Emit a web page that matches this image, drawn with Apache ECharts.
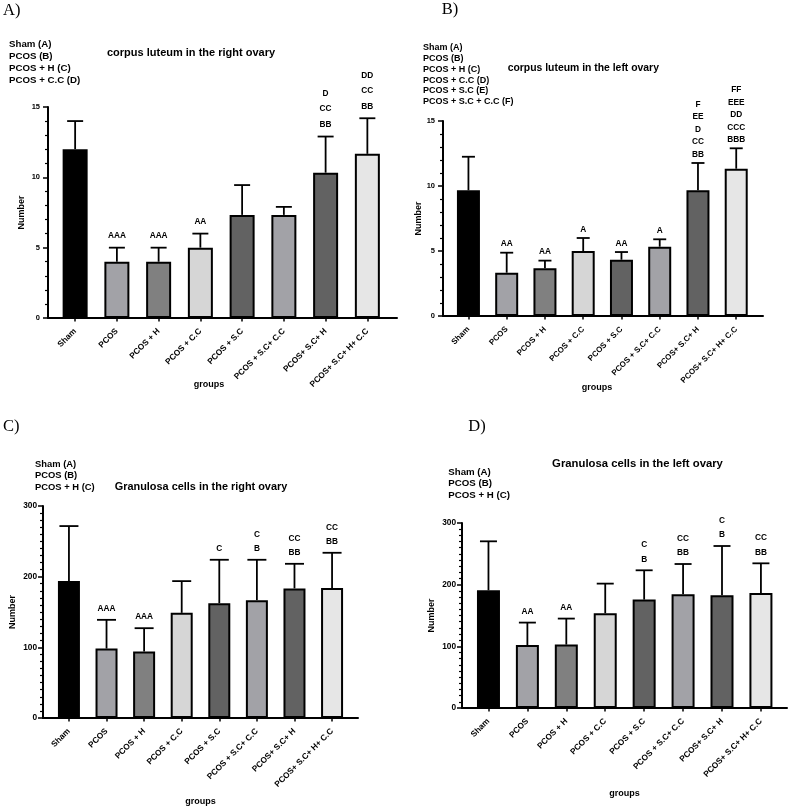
<!DOCTYPE html>
<html><head><meta charset="utf-8">
<script src="https://cdn.jsdelivr.net/npm/echarts@6/dist/echarts.min.js"></script>
<style>html,body{margin:0;padding:0;background:#fff}#c{width:789px;height:808px}</style>
</head><body><div id="c"></div>
<script>
// ---------- DATA ----------
const categories = ['Sham', 'PCOS', 'PCOS + H', 'PCOS + C.C', 'PCOS + S.C', 'PCOS + S.C+ C.C', 'PCOS+ S.C+ H', 'PCOS+ S.C+ H+ C.C'];

const titleA = 'corpus luteum in the right ovary';
const legendA = ['Sham (A)', 'PCOS (B)', 'PCOS + H (C)', 'PCOS + C.C (D)'];
const meanA = [12, 4, 4, 5, 7.33, 7.33, 10.33, 11.67];
const errTopA = [14, 5, 5, 6, 9.45, 7.9, 12.9, 14.2];
const sigA = [[], ['AAA'], ['AAA'], ['AA'], [], [], ['D', 'CC', 'BB'], ['DD', 'CC', 'BB']];
const yTicksA = [0, 5, 10, 15];

const titleB = 'corpus luteum in the left ovary';
const legendB = ['Sham (A)', 'PCOS (B)', 'PCOS + H (C)', 'PCOS + C.C (D)', 'PCOS + S.C (E)', 'PCOS + S.C + C.C (F)'];
const meanB = [9.67, 3.33, 3.67, 5, 4.33, 5.33, 9.67, 11.33];
const errTopB = [12.25, 4.87, 4.26, 6.0, 4.92, 5.9, 11.77, 12.9];
const sigB = [[], ['AA'], ['AA'], ['A'], ['AA'], ['A'], ['F', 'EE', 'D', 'CC', 'BB'], ['FF', 'EEE', 'DD', 'CCC', 'BBB']];
const yTicksB = [0, 5, 10, 15];

const titleC = 'Granulosa cells in the right ovary';
const legendC = ['Sham (A)', 'PCOS (B)', 'PCOS + H (C)'];
const meanC = [193.7, 98.3, 94.1, 148.8, 162.5, 166.8, 183.4, 184];
const errTopC = [271.6, 138.9, 127.1, 193.7, 223.9, 223.9, 218.2, 233.8];
const sigC = [[], ['AAA'], ['AAA'], [], ['C'], ['C', 'B'], ['CC', 'BB'], ['CC', 'BB']];
const yTicksC = [0, 100, 200, 300];

const titleD = 'Granulosa cells in the left ovary';
const legendD = ['Sham (A)', 'PCOS (B)', 'PCOS + H (C)'];
const meanD = [190.9, 102.2, 102.8, 153.6, 175.8, 184.4, 182.7, 186.5];
const errTopD = [270.3, 138.5, 145, 201.7, 223.3, 233.5, 262.7, 234.6];
const sigD = [[], ['AA'], ['AA'], [], ['C', 'B'], ['CC', 'BB'], ['C', 'B'], ['CC', 'BB']];
const yTicksD = [0, 100, 200, 300];

const panelLetters = ['A)', 'B)', 'C)', 'D)'];
const xAxisName = 'groups';
const yAxisName = 'Number';

// ---------- STYLE / LAYOUT ----------
const barColors = ['#000000', '#a2a2a7', '#808080', '#d6d6d6', '#626262', '#a2a2a7', '#626262', '#e6e6e6'];
const SANS = '"Liberation Sans", Arial, Helvetica, sans-serif';
const SERIF = '"Liberation Serif", "Times New Roman", serif';

const layouts = [
  { grid: { left: 48, top: 107, width: 349, height: 211 }, xMin: -0.65, xMax: 7.71, yMax: 15, yInt: 5, minor: 5,
    barW: 25, cap: 16, tickFont: 7.5, labMargin: 8, catFont: 8.3, catMargin: 12, nameGapY: 22, nameGapX: 62, xPadR: 27,
    sigGap: 12, sigLH: 15.5, sigFont: 8.3,
    title: { x: 191, y: 52.7, size: 11 }, legend: { x: 9, y: 44, lh: 12, size: 9.7 }, letter: { x: 3, y: 10.3 } },
  { grid: { left: 443, top: 121, width: 320, height: 195 }, xMin: -0.665, xMax: 7.70, yMax: 15, yInt: 5, minor: 5,
    barW: 23, cap: 13, tickFont: 7.5, labMargin: 8, catFont: 8, catMargin: 12, nameGapY: 20, nameGapX: 67, xPadR: 12,
    sigGap: 8.5, sigLH: 12.5, sigFont: 8.3,
    title: { x: 583.3, y: 67.7, size: 10.4 }, legend: { x: 423, y: 47.7, lh: 10.8, size: 9 }, letter: { x: 441.7, y: 9.2 } },
  { grid: { left: 43, top: 506, width: 315, height: 212 }, xMin: -0.69, xMax: 7.69, yMax: 300, yInt: 100, minor: 10,
    barW: 22, cap: 19, tickFont: 8.3, labMargin: 6, catFont: 8.3, catMargin: 12, nameGapY: 25.5, nameGapX: 79.5, xPadR: 0,
    sigGap: 11, sigLH: 14.5, sigFont: 8.3,
    title: { x: 201, y: 487.3, size: 10.9 }, legend: { x: 35, y: 464.3, lh: 11.5, size: 9.4 }, letter: { x: 3, y: 426.7 } },
  { grid: { left: 462, top: 523, width: 325, height: 185 }, xMin: -0.68, xMax: 7.67, yMax: 300, yInt: 100, minor: 10,
    barW: 23, cap: 17, tickFont: 8.3, labMargin: 6, catFont: 8.3, catMargin: 12, nameGapY: 25.5, nameGapX: 81, xPadR: 0,
    sigGap: 11, sigLH: 14.5, sigFont: 8.3,
    title: { x: 637.5, y: 464, size: 11.3 }, legend: { x: 448.3, y: 472, lh: 11.8, size: 9.7 }, letter: { x: 468.3, y: 426.7 } }
];

const panels = [
  { title: titleA, legend: legendA, mean: meanA, errTop: errTopA, sig: sigA, yTicks: yTicksA },
  { title: titleB, legend: legendB, mean: meanB, errTop: errTopB, sig: sigB, yTicks: yTicksB },
  { title: titleC, legend: legendC, mean: meanC, errTop: errTopC, sig: sigC, yTicks: yTicksC },
  { title: titleD, legend: legendD, mean: meanD, errTop: errTopD, sig: sigD, yTicks: yTicksD }
];

// ---------- BUILD ----------
const option = { animation: false, backgroundColor: '#fff', grid: [], xAxis: [], yAxis: [], series: [], graphic: [] };
const catIdx = categories.map((c, i) => i);

panels.forEach((P, k) => {
  const L = layouts[k];
  option.grid.push(Object.assign({ containLabel: false }, L.grid));
  option.xAxis.push({
    type: 'value', gridIndex: k, min: L.xMin, max: L.xMax,
    name: xAxisName, nameLocation: 'middle', nameGap: L.nameGapX, nameMoveOverlap: false,
    nameTextStyle: { fontFamily: SANS, fontWeight: 'bold', fontSize: 9, color: '#000', padding: [0, L.xPadR, 0, 0] },
    splitLine: { show: false },
    axisLine: { show: true, onZero: false, lineStyle: { color: '#000', width: 2 } },
    axisTick: { show: true, customValues: catIdx, length: 3.5, lineStyle: { color: '#000', width: 1.5 } },
    axisLabel: { customValues: catIdx, rotate: 45, margin: L.catMargin, fontFamily: SANS, fontWeight: 'bold',
      fontSize: L.catFont, color: '#000', formatter: v => categories[Math.round(v)] }
  });
  option.yAxis.push({
    type: 'value', gridIndex: k, min: 0, max: L.yMax, interval: L.yInt,
    name: yAxisName, nameLocation: 'middle', nameGap: L.nameGapY, nameMoveOverlap: false,
    nameTextStyle: { fontFamily: SANS, fontWeight: 'bold', fontSize: 9, color: '#000' },
    splitLine: { show: false },
    axisLine: { show: true, onZero: false, lineStyle: { color: '#000', width: 2 } },
    axisTick: { show: true, length: 5, lineStyle: { color: '#000', width: 1.5 } },
    minorTick: { show: true, splitNumber: L.minor, length: 3, lineStyle: { color: '#000', width: 1.2 } },
    axisLabel: { margin: L.labMargin, fontFamily: SANS, fontWeight: 'bold', fontSize: L.tickFont, color: '#000' }
  });
  // bars
  option.series.push({
    type: 'bar', xAxisIndex: k, yAxisIndex: k, barWidth: L.barW,
    itemStyle: { borderColor: '#000', borderWidth: 2 },
    data: P.mean.map((v, i) => ({ value: [i, v], itemStyle: { color: barColors[i] } }))
  });
  // error bars
  option.series.push({
    type: 'custom', xAxisIndex: k, yAxisIndex: k, z: 3,
    data: P.mean.map((v, i) => [i, v, P.errTop[i]]),
    encode: { x: 0, y: [1, 2] },
    renderItem: (params, api) => {
      const p0 = api.coord([api.value(0), api.value(1)]);
      const p1 = api.coord([api.value(0), api.value(2)]);
      const h = L.cap / 2;
      return { type: 'group', children: [
        { type: 'line', shape: { x1: p0[0], y1: p0[1], x2: p1[0], y2: p1[1] }, style: { stroke: '#000', lineWidth: 1.8 } },
        { type: 'line', shape: { x1: p1[0] - h, y1: p1[1], x2: p1[0] + h, y2: p1[1] }, style: { stroke: '#000', lineWidth: 1.8 } }
      ] };
    }
  });
  // significance letters
  option.series.push({
    type: 'custom', xAxisIndex: k, yAxisIndex: k, z: 4,
    data: P.errTop.map((t, i) => [i, t]),
    renderItem: (params, api) => {
      const p = api.coord([api.value(0), api.value(1)]);
      const lines = P.sig[params.dataIndex] || [];
      const n = lines.length;
      return { type: 'group', children: lines.map((s, j) => ({
        type: 'text',
        style: { text: s, x: p[0], y: p[1] - L.sigGap - (n - 1 - j) * L.sigLH,
          align: 'center', verticalAlign: 'middle', fill: '#000',
          font: 'bold ' + L.sigFont + 'px ' + SANS }
      })) };
    }
  });
  // titles, legend text, panel letters
  option.graphic.push({ type: 'text', x: L.title.x, y: L.title.y,
    style: { text: P.title, align: 'center', verticalAlign: 'middle', fill: '#000', font: 'bold ' + L.title.size + 'px ' + SANS } });
  option.graphic.push({ type: 'text', x: L.legend.x, y: L.legend.y - L.legend.lh / 2,
    style: { text: P.legend.join('\n'), align: 'left', verticalAlign: 'top', lineHeight: L.legend.lh, fill: '#000',
      font: 'bold ' + L.legend.size + 'px ' + SANS } });
  option.graphic.push({ type: 'text', x: L.letter.x, y: L.letter.y,
    style: { text: panelLetters[k], align: 'left', verticalAlign: 'middle', fill: '#000', font: '16.5px ' + SERIF } });
});

const chart = echarts.init(document.getElementById('c'), null, { renderer: 'canvas' });
chart.setOption(option);
</script>
</body></html>
